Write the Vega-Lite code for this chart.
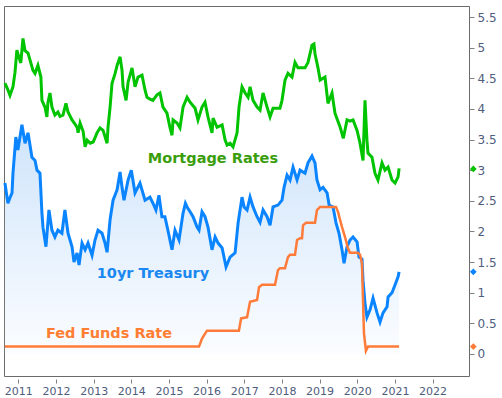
{
  "$schema": "https://vega.github.io/schema/vega-lite/v6.json",
  "width": 465,
  "height": 370,
  "autosize": {"type": "none"},
  "padding": {"left": 4, "top": 6, "right": 33, "bottom": 22},
  "background": "white",
  "config": {
    "view": {"stroke": "#6b6b6b", "strokeWidth": 1},
    "axis": {"grid": false, "domain": false, "title": null, "labelFont": "DejaVu Sans", "labelColor": "#4f5d7d", "tickColor": "#808080"}
  },
  "datasets": {
    "mortgage": [
      {"date":"2010-08-24","rate":4.42},{"date":"2010-09-22","rate":4.31},{"date":"2010-10-12","rate":4.22},{"date":"2010-11-10","rate":4.36},{"date":"2010-11-30","rate":4.60},{"date":"2010-12-18","rate":4.96},{"date":"2011-01-05","rate":4.85},{"date":"2011-01-25","rate":4.75},{"date":"2011-02-15","rate":5.15},{"date":"2011-03-07","rate":4.95},{"date":"2011-04-05","rate":4.91},{"date":"2011-04-24","rate":4.80},{"date":"2011-05-23","rate":4.63},{"date":"2011-06-12","rate":4.58},{"date":"2011-07-10","rate":4.71},{"date":"2011-08-08","rate":4.52},{"date":"2011-08-18","rate":4.14},{"date":"2011-09-16","rate":4.03},{"date":"2011-10-05","rate":3.87},{"date":"2011-10-15","rate":4.10},{"date":"2011-11-04","rate":4.26},{"date":"2011-11-23","rate":4.03},{"date":"2011-12-22","rate":3.90},{"date":"2012-01-20","rate":3.95},{"date":"2012-02-09","rate":3.88},{"date":"2012-03-09","rate":3.90},{"date":"2012-04-07","rate":4.09},{"date":"2012-04-27","rate":3.95},{"date":"2012-06-05","rate":3.82},{"date":"2012-07-04","rate":3.75},{"date":"2012-07-24","rate":3.70},{"date":"2012-08-03","rate":3.61},{"date":"2012-08-22","rate":3.77},{"date":"2012-09-21","rate":3.63},{"date":"2012-10-10","rate":3.38},{"date":"2012-10-30","rate":3.49},{"date":"2012-11-28","rate":3.44},{"date":"2012-12-27","rate":3.46},{"date":"2013-02-03","rate":3.61},{"date":"2013-03-04","rate":3.69},{"date":"2013-04-02","rate":3.65},{"date":"2013-05-11","rate":3.44},{"date":"2013-05-20","rate":3.70},{"date":"2013-06-09","rate":4.03},{"date":"2013-06-28","rate":4.42},{"date":"2013-07-28","rate":4.58},{"date":"2013-08-16","rate":4.71},{"date":"2013-09-14","rate":4.85},{"date":"2013-10-03","rate":4.63},{"date":"2013-10-13","rate":4.36},{"date":"2013-11-11","rate":4.14},{"date":"2013-12-01","rate":4.44},{"date":"2014-01-08","rate":4.67},{"date":"2014-02-06","rate":4.36},{"date":"2014-03-07","rate":4.52},{"date":"2014-04-15","rate":4.55},{"date":"2014-05-14","rate":4.31},{"date":"2014-06-02","rate":4.19},{"date":"2014-07-01","rate":4.16},{"date":"2014-07-30","rate":4.14},{"date":"2014-09-07","rate":4.23},{"date":"2014-10-06","rate":4.26},{"date":"2014-11-04","rate":4.03},{"date":"2014-12-13","rate":3.93},{"date":"2015-01-11","rate":3.70},{"date":"2015-01-31","rate":3.57},{"date":"2015-02-10","rate":3.82},{"date":"2015-03-21","rate":3.77},{"date":"2015-04-18","rate":3.69},{"date":"2015-05-18","rate":4.03},{"date":"2015-06-26","rate":4.19},{"date":"2015-07-25","rate":4.11},{"date":"2015-09-12","rate":4.01},{"date":"2015-10-10","rate":3.82},{"date":"2015-11-18","rate":4.03},{"date":"2015-12-17","rate":4.11},{"date":"2016-01-15","rate":3.87},{"date":"2016-02-23","rate":3.61},{"date":"2016-03-04","rate":3.85},{"date":"2016-04-12","rate":3.70},{"date":"2016-05-31","rate":3.74},{"date":"2016-06-29","rate":3.49},{"date":"2016-07-18","rate":3.41},{"date":"2016-08-16","rate":3.44},{"date":"2016-09-14","rate":3.38},{"date":"2016-10-23","rate":3.61},{"date":"2016-11-11","rate":4.03},{"date":"2016-12-10","rate":4.36},{"date":"2017-01-09","rate":4.26},{"date":"2017-02-07","rate":4.19},{"date":"2017-02-26","rate":4.36},{"date":"2017-03-27","rate":4.14},{"date":"2017-05-05","rate":4.03},{"date":"2017-06-03","rate":3.98},{"date":"2017-07-02","rate":4.26},{"date":"2017-08-10","rate":4.03},{"date":"2017-09-08","rate":3.87},{"date":"2017-10-07","rate":4.01},{"date":"2017-11-15","rate":4.01},{"date":"2017-12-13","rate":4.01},{"date":"2018-01-02","rate":4.14},{"date":"2018-01-31","rate":4.47},{"date":"2018-03-01","rate":4.58},{"date":"2018-04-09","rate":4.52},{"date":"2018-05-08","rate":4.76},{"date":"2018-06-06","rate":4.67},{"date":"2018-07-15","rate":4.67},{"date":"2018-08-13","rate":4.67},{"date":"2018-09-11","rate":4.76},{"date":"2018-10-20","rate":5.04},{"date":"2018-11-08","rate":5.06},{"date":"2018-11-18","rate":4.90},{"date":"2018-12-17","rate":4.67},{"date":"2019-01-07","rate":4.47},{"date":"2019-02-23","rate":4.52},{"date":"2019-03-24","rate":4.09},{"date":"2019-05-02","rate":4.26},{"date":"2019-05-31","rate":3.93},{"date":"2019-07-20","rate":3.70},{"date":"2019-08-20","rate":3.52},{"date":"2019-09-25","rate":3.82},{"date":"2019-10-24","rate":3.80},{"date":"2019-11-22","rate":3.82},{"date":"2019-12-31","rate":3.65},{"date":"2020-01-29","rate":3.44},{"date":"2020-02-27","rate":3.16},{"date":"2020-03-17","rate":4.14},{"date":"2020-04-05","rate":3.49},{"date":"2020-04-15","rate":3.28},{"date":"2020-05-24","rate":3.21},{"date":"2020-06-22","rate":2.95},{"date":"2020-07-21","rate":2.84},{"date":"2020-08-29","rate":3.12},{"date":"2020-09-27","rate":3.00},{"date":"2020-10-27","rate":3.05},{"date":"2020-12-04","rate":2.84},{"date":"2021-01-03","rate":2.79},{"date":"2021-02-01","rate":2.89},{"date":"2021-02-11","rate":3.03}
    ],
    "treasury": [
      {"date":"2010-08-24","rate":2.79},{"date":"2010-09-22","rate":2.46},{"date":"2010-10-12","rate":2.55},{"date":"2010-11-01","rate":2.63},{"date":"2010-11-10","rate":2.95},{"date":"2010-12-08","rate":3.54},{"date":"2010-12-28","rate":3.33},{"date":"2011-02-05","rate":3.74},{"date":"2011-03-07","rate":3.44},{"date":"2011-04-05","rate":3.61},{"date":"2011-05-13","rate":3.21},{"date":"2011-06-12","rate":3.16},{"date":"2011-07-01","rate":3.00},{"date":"2011-07-30","rate":2.95},{"date":"2011-08-18","rate":2.30},{"date":"2011-08-28","rate":2.07},{"date":"2011-09-26","rate":1.75},{"date":"2011-10-25","rate":2.35},{"date":"2011-11-23","rate":2.02},{"date":"2011-12-22","rate":1.91},{"date":"2012-01-20","rate":2.02},{"date":"2012-02-28","rate":1.97},{"date":"2012-03-28","rate":2.35},{"date":"2012-04-27","rate":1.97},{"date":"2012-06-05","rate":1.75},{"date":"2012-06-24","rate":1.50},{"date":"2012-07-24","rate":1.65},{"date":"2012-08-12","rate":1.45},{"date":"2012-09-10","rate":1.81},{"date":"2012-10-10","rate":1.70},{"date":"2012-11-07","rate":1.81},{"date":"2012-12-16","rate":1.61},{"date":"2013-01-14","rate":1.86},{"date":"2013-02-12","rate":2.02},{"date":"2013-03-23","rate":1.97},{"date":"2013-04-21","rate":1.81},{"date":"2013-05-11","rate":1.66},{"date":"2013-06-09","rate":2.19},{"date":"2013-07-08","rate":2.51},{"date":"2013-08-16","rate":2.68},{"date":"2013-09-14","rate":2.97},{"date":"2013-10-03","rate":2.72},{"date":"2013-10-22","rate":2.51},{"date":"2013-12-01","rate":2.84},{"date":"2014-01-01","rate":3.00},{"date":"2014-02-06","rate":2.63},{"date":"2014-03-26","rate":2.79},{"date":"2014-05-14","rate":2.51},{"date":"2014-07-01","rate":2.56},{"date":"2014-07-30","rate":2.46},{"date":"2014-08-28","rate":2.35},{"date":"2014-09-26","rate":2.59},{"date":"2014-10-25","rate":2.24},{"date":"2014-11-23","rate":2.24},{"date":"2014-12-22","rate":2.02},{"date":"2015-01-31","rate":1.70},{"date":"2015-03-01","rate":2.02},{"date":"2015-04-09","rate":1.86},{"date":"2015-05-18","rate":2.30},{"date":"2015-06-10","rate":2.46},{"date":"2015-06-26","rate":2.40},{"date":"2015-07-25","rate":2.32},{"date":"2015-08-23","rate":2.24},{"date":"2015-10-01","rate":2.07},{"date":"2015-10-20","rate":2.02},{"date":"2015-11-18","rate":2.32},{"date":"2015-12-17","rate":2.24},{"date":"2016-01-15","rate":2.07},{"date":"2016-02-23","rate":1.70},{"date":"2016-03-24","rate":1.91},{"date":"2016-04-22","rate":1.81},{"date":"2016-05-31","rate":1.73},{"date":"2016-07-08","rate":1.42},{"date":"2016-08-16","rate":1.58},{"date":"2016-10-04","rate":1.65},{"date":"2016-11-02","rate":2.14},{"date":"2016-12-10","rate":2.56},{"date":"2016-12-30","rate":2.40},{"date":"2017-01-28","rate":2.35},{"date":"2017-02-26","rate":2.56},{"date":"2017-03-27","rate":2.40},{"date":"2017-05-05","rate":2.24},{"date":"2017-06-03","rate":2.15},{"date":"2017-07-02","rate":2.35},{"date":"2017-08-10","rate":2.24},{"date":"2017-09-08","rate":2.10},{"date":"2017-10-07","rate":2.40},{"date":"2017-11-24","rate":2.43},{"date":"2018-01-02","rate":2.51},{"date":"2018-01-22","rate":2.72},{"date":"2018-02-20","rate":2.92},{"date":"2018-03-21","rate":2.84},{"date":"2018-04-19","rate":3.05},{"date":"2018-05-28","rate":2.84},{"date":"2018-06-26","rate":3.00},{"date":"2018-08-13","rate":2.95},{"date":"2018-09-11","rate":3.12},{"date":"2018-10-20","rate":3.23},{"date":"2018-11-18","rate":3.12},{"date":"2018-12-07","rate":2.84},{"date":"2019-01-06","rate":2.68},{"date":"2019-02-04","rate":2.72},{"date":"2019-03-15","rate":2.63},{"date":"2019-04-04","rate":2.43},{"date":"2019-05-12","rate":2.40},{"date":"2019-06-10","rate":2.14},{"date":"2019-07-09","rate":1.97},{"date":"2019-08-07","rate":1.70},{"date":"2019-08-27","rate":1.48},{"date":"2019-09-25","rate":1.75},{"date":"2019-10-24","rate":1.86},{"date":"2019-11-22","rate":1.91},{"date":"2019-12-31","rate":1.83},{"date":"2020-01-19","rate":1.58},{"date":"2020-02-17","rate":1.55},{"date":"2020-02-27","rate":1.20},{"date":"2020-03-17","rate":0.83},{"date":"2020-04-05","rate":0.60},{"date":"2020-05-05","rate":0.72},{"date":"2020-06-03","rate":0.91},{"date":"2020-07-12","rate":0.67},{"date":"2020-08-10","rate":0.52},{"date":"2020-09-08","rate":0.67},{"date":"2020-10-17","rate":0.77},{"date":"2020-10-27","rate":0.93},{"date":"2020-12-04","rate":1.00},{"date":"2021-01-03","rate":1.13},{"date":"2021-02-01","rate":1.26},{"date":"2021-02-11","rate":1.34}
    ],
    "fed": [
      {"date":"2010-08-24","rate":0.12},{"date":"2015-10-20","rate":0.12},{"date":"2015-11-18","rate":0.25},{"date":"2016-01-05","rate":0.38},{"date":"2016-11-10","rate":0.38},{"date":"2016-12-01","rate":0.58},{"date":"2017-01-28","rate":0.60},{"date":"2017-02-26","rate":0.85},{"date":"2017-05-05","rate":0.88},{"date":"2017-05-24","rate":1.09},{"date":"2017-06-22","rate":1.13},{"date":"2017-10-26","rate":1.13},{"date":"2017-11-24","rate":1.37},{"date":"2017-12-13","rate":1.40},{"date":"2018-01-31","rate":1.40},{"date":"2018-03-01","rate":1.58},{"date":"2018-03-21","rate":1.62},{"date":"2018-05-08","rate":1.62},{"date":"2018-05-28","rate":1.86},{"date":"2018-06-26","rate":1.89},{"date":"2018-07-15","rate":1.89},{"date":"2018-07-25","rate":2.10},{"date":"2018-08-23","rate":2.14},{"date":"2018-11-18","rate":2.14},{"date":"2018-12-07","rate":2.35},{"date":"2019-01-06","rate":2.40},{"date":"2019-06-10","rate":2.40},{"date":"2019-06-29","rate":2.32},{"date":"2019-08-07","rate":2.07},{"date":"2019-09-05","rate":1.91},{"date":"2019-10-03","rate":1.73},{"date":"2019-10-24","rate":1.65},{"date":"2020-01-09","rate":1.65},{"date":"2020-01-29","rate":1.62},{"date":"2020-02-17","rate":1.48},{"date":"2020-03-07","rate":0.34},{"date":"2020-03-26","rate":0.05},{"date":"2020-04-15","rate":0.12},{"date":"2021-02-11","rate":0.12}
    ],
    "labels": [
      {"date":"2016-03-03","rate":3.18,"label":"Mortgage Rates"},
      {"date":"2014-07-30","rate":1.30,"label":"10yr Treasury"},
      {"date":"2013-05-30","rate":0.33,"label":"Fed Funds Rate"}
    ],
    "ends": [
      {"date":"2023-02-01","rate":3.02,"series":"Mortgage Rates"},
      {"date":"2023-02-01","rate":1.34,"series":"10yr Treasury"},
      {"date":"2023-02-01","rate":0.12,"series":"Fed Funds Rate"}
    ]
  },
  "encoding": {
    "x": {
      "field": "date", "type": "temporal",
      "scale": {"domain": [{"year": 2010, "month": 8, "date": 15}, {"year": 2022, "month": 12, "date": 21}]},
      "axis": {
        "orient": "bottom", "format": "%Y", "tickSize": 4, "offset": 3, "labelPadding": 2, "labelFontSize": 11,
        "values": [{"year":2011,"month":1,"date":1},{"year":2012,"month":1,"date":1},{"year":2013,"month":1,"date":1},{"year":2014,"month":1,"date":1},{"year":2015,"month":1,"date":1},{"year":2016,"month":1,"date":1},{"year":2017,"month":1,"date":1},{"year":2018,"month":1,"date":1},{"year":2019,"month":1,"date":1},{"year":2020,"month":1,"date":1},{"year":2021,"month":1,"date":1},{"year":2022,"month":1,"date":1}]
      }
    },
    "y": {
      "field": "rate", "type": "quantitative",
      "scale": {"domain": [-0.36, 5.68], "nice": false, "zero": false},
      "axis": {"orient": "right", "values": [0, 0.5, 1, 1.5, 2, 2.5, 3, 3.5, 4, 4.5, 5, 5.5], "format": "~g", "tickSize": 5, "labelPadding": 3, "labelFontSize": 12}
    }
  },
  "layer": [
    {
      "data": {"name": "treasury"},
      "mark": {"type": "area", "color": {"gradient": "linear", "x1": 0, "y1": 0, "x2": 0, "y2": 1, "stops": [{"offset": 0, "color": "#cfe4fb"}, {"offset": 1, "color": "#fbfdff"}]}},
      "encoding": {"y2": {"datum": 0}}
    },
    {
      "data": {"name": "mortgage"},
      "mark": {"type": "line", "color": "#00c400", "strokeWidth": 3},
      "encoding": {}
    },
    {
      "data": {"name": "treasury"},
      "mark": {"type": "line", "color": "#0a84ff", "strokeWidth": 3},
      "encoding": {}
    },
    {
      "data": {"name": "fed"},
      "mark": {"type": "line", "color": "#ff7b3a", "strokeWidth": 2.5},
      "encoding": {}
    },
    {
      "data": {"name": "labels"},
      "mark": {"type": "text", "font": "DejaVu Sans", "fontWeight": "bold", "fontSize": 14.5, "align": "center", "baseline": "middle"},
      "encoding": {
        "text": {"field": "label"},
        "color": {"field": "label", "type": "nominal", "legend": null, "scale": {"domain": ["Mortgage Rates", "10yr Treasury", "Fed Funds Rate"], "range": ["#3a9e0c", "#1a88f0", "#ff7e33"]}}
      }
    },
    {
      "data": {"name": "ends"},
      "mark": {"type": "point", "shape": "diamond", "filled": true, "size": 45, "opacity": 1, "clip": false},
      "encoding": {
        "color": {"field": "series", "type": "nominal", "legend": null, "scale": {"domain": ["Mortgage Rates", "10yr Treasury", "Fed Funds Rate"], "range": ["#00c400", "#0a84ff", "#ff7b3a"]}}
      }
    }
  ],
  "resolve": {"scale": {"color": "independent"}}
}
